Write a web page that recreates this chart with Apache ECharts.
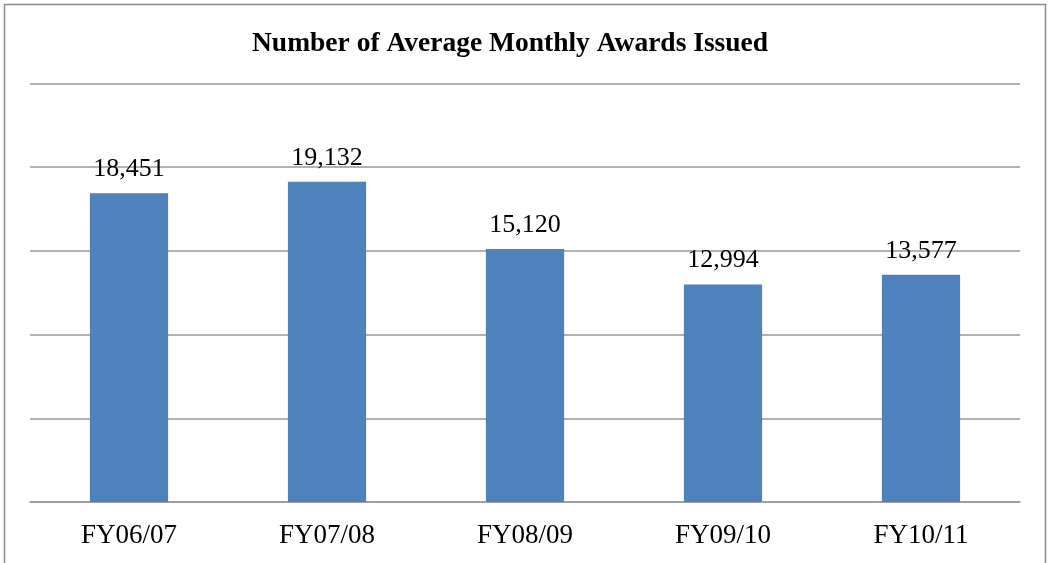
<!DOCTYPE html>
<html>
<head>
<meta charset="utf-8">
<script src="https://cdn.jsdelivr.net/npm/echarts@6/dist/echarts.min.js"></script>
<style>
  html, body { margin: 0; padding: 0; background: #fff; }
  #main { width: 1049px; height: 563px; }
</style>
</head>
<body>
<div id="main"></div>
<script>
var categories = ['FY06/07', 'FY07/08', 'FY08/09', 'FY09/10', 'FY10/11'];
var awards = [18451, 19132, 15120, 12994, 13577];
var yTicks = [0, 5000, 10000, 15000, 20000, 25000];

var chart = echarts.init(document.getElementById('main'), null, { renderer: 'canvas' });
var serif = "'Liberation Serif', 'Times New Roman', serif";

var option = {
  backgroundColor: '#ffffff',
  animation: false,
  title: {
    text: 'Number of Average Monthly Awards Issued',
    left: 252,
    top: 30,
    padding: 0,
    textStyle: { fontFamily: serif, fontSize: 27.5, fontWeight: 'bold', color: '#000' }
  },
  graphic: [{
    type: 'rect',
    shape: { x: 4.5, y: 4.5, width: 1041, height: 580 },
    style: { fill: 'none', stroke: '#8c8c8c', lineWidth: 1.5 },
    silent: true
  }],
  grid: { left: 30, right: 29, top: 83.5, bottom: 61, containLabel: false },
  xAxis: {
    type: 'category',
    data: categories,
    axisLine: { lineStyle: { color: '#999', width: 1.5 } },
    axisTick: { length: 7, lineStyle: { color: '#999', width: 1.5 } },
    axisLabel: { fontFamily: serif, fontSize: 27, color: '#000', margin: 20 }
  },
  yAxis: {
    type: 'value',
    min: yTicks[0],
    max: yTicks[yTicks.length - 1],
    interval: yTicks[1] - yTicks[0],
    axisLine: { show: false },
    axisTick: { show: false },
    axisLabel: { show: false },
    splitLine: { lineStyle: { color: '#999', width: 1.5 } }
  },
  series: [{
    type: 'bar',
    data: awards,
    barWidth: '39.5%',
    itemStyle: { color: '#4F81BD' },
    label: {
      show: true,
      position: 'top',
      distance: 11,
      fontFamily: serif,
      fontSize: 26,
      color: '#000',
      formatter: function (p) {
        return p.value.toLocaleString('en-US');
      }
    }
  }]
};
chart.setOption(option);
</script>
</body>
</html>
